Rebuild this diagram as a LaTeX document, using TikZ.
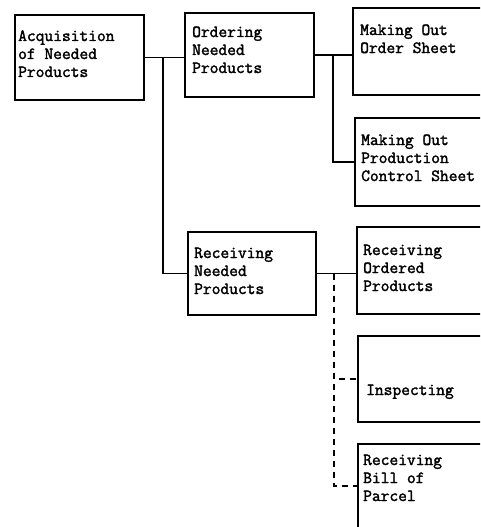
\documentclass[tikz,border=0pt]{standalone}
\usepackage{fontspec}
\setmonofont[AutoFakeBold=2]{Latin Modern Mono}
\begin{document}
\begin{tikzpicture}[x=1pt,y=-1pt,
  box/.style={draw, line width=1.9pt, rectangle, inner sep=0pt, outer sep=0pt},
  txt/.style={anchor=base west, align=left, inner sep=0pt,
    font=\ttfamily\bfseries\fontsize{17}{18}\selectfont},
  link/.style={line width=1.9pt},
  dlink/.style={line width=1.7pt, dash pattern=on 6pt off 5pt}]
\useasboundingbox (0,0) rectangle (480,527);
\clip (0,0) rectangle (480,527);

% boxes
\node[box, minimum width=129pt, minimum height=85pt] (A) at (79.5,57.5) {};
\node[box, minimum width=129pt, minimum height=84pt] (B) at (249.5,55) {};
\node[box, minimum width=139pt, minimum height=87pt] (C) at (422.5,51.5) {};
\node[box, minimum width=137pt, minimum height=88pt] (E) at (423.5,162) {};
\node[box, minimum width=128pt, minimum height=83pt] (D) at (252,273.5) {};
\node[box, minimum width=135pt, minimum height=87pt] (F) at (424.5,270.5) {};
\node[box, minimum width=134pt, minimum height=86pt] (G) at (425,379) {};
\node[box, minimum width=134pt, minimum height=84pt] (H) at (425,486) {};

% labels (positioned by the baseline of their last line)
\node[txt] (tA) at (18,77)  {Acquisition\\of Needed\\Products};
\node[txt] (tB) at (192,73) {Ordering\\Needed\\Products};
\node[txt] (tC) at (360,53) {Making Out\\Order Sheet};
\node[txt] (tE) at (361,181) {Making Out\\Production\\Control Sheet};
\node[txt] (tD) at (194,294) {Receiving\\Needed\\Products};
\node[txt] (tF) at (363,291) {Receiving\\Ordered\\Products};
\node[txt] (tG) at (366,395) {Inspecting};
\node[txt] (tH) at (363,501) {Receiving\\Bill of\\Parcel};

% branch points
\coordinate (j1) at (163,57.5);
\coordinate (j2) at (333,55);
\coordinate (j3) at (334,273.5);

% connectors
\draw[link] (A.east) -- (A.east -| B.west);
\draw[link] (j1) |- (D.west);
\draw[link] (B.east) -- (B.east -| C.west);
\draw[link] (j2) |- (E.west);
\draw[link] (D.east) -- (D.east -| F.west);
\draw[dlink] (j3) |- (G.west);
\draw[dlink] (j3) |- (H.west);
\end{tikzpicture}
\end{document}
